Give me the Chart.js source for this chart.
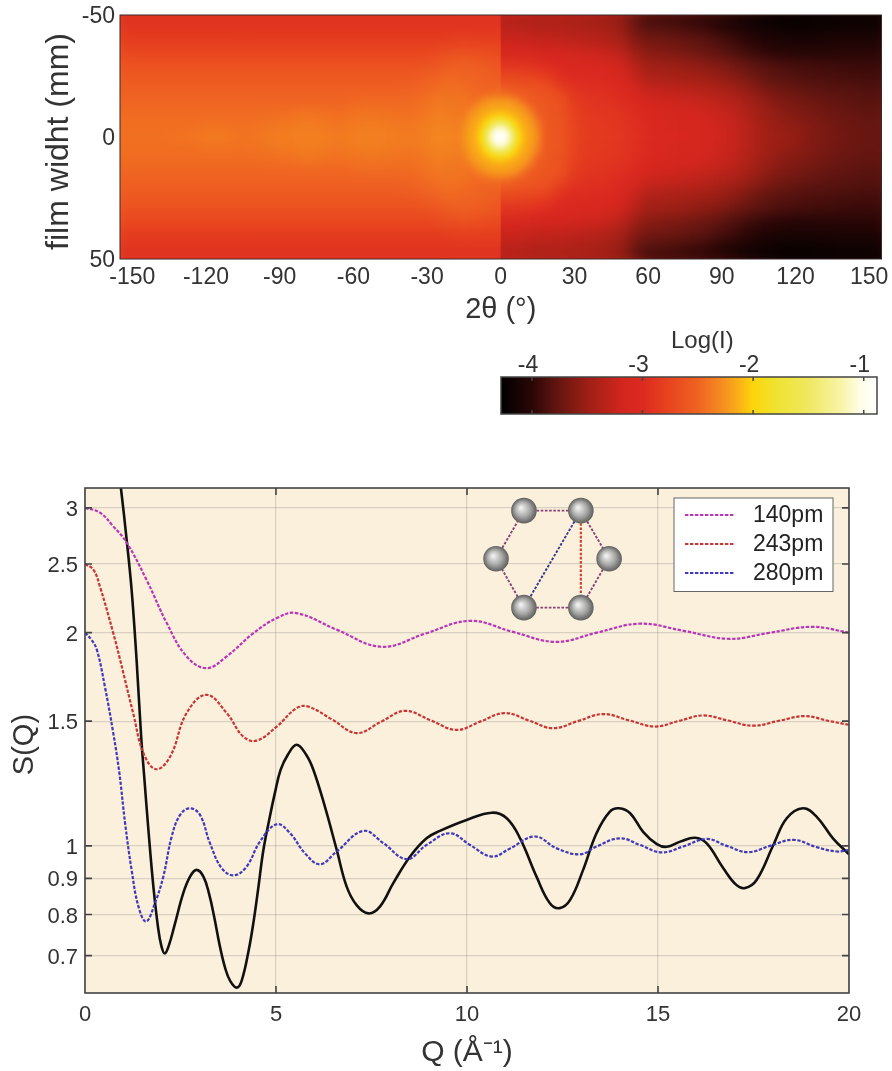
<!DOCTYPE html>
<html><head><meta charset="utf-8">
<script src="https://cdn.jsdelivr.net/npm/chart.js@4"></script>
<style>
html,body{margin:0;padding:0;background:#fff}
#page{position:relative;width:892px;height:1071px;overflow:hidden}
.pane{position:absolute;left:0;width:892px}
canvas{filter:blur(.45px)}
</style></head><body><div id="page">
<div class="pane" style="top:0;height:335px"><canvas id="heat" width="892" height="335"></canvas></div>
<div class="pane" style="top:320px;height:110px"><canvas id="bar" width="892" height="110"></canvas></div>
<div class="pane" style="top:470px;height:601px"><canvas id="lines" width="892" height="601"></canvas></div>
</div>
<script>
// ---------- colour scale (Log I)
const colorLevels=[-4.28,-4,-3.8,-3.5,-3.17,-3,-2.75,-2.5,-2.27,-2.1,-2,-1.8,-1.5,-1.2,-1.03,-0.88];
const colorHexes=['#000000','#2a0606','#5c1410','#9c1f15','#d4261e','#dc2a20','#e8451f','#ef6322','#f58f1f','#fbb814','#fdd50a','#efe22f','#f0e860','#f8f4a8','#fffde8','#ffffff'];
const colorTicks=[-4,-3,-2,-1];
// ---------- heat map: Log(I)*100, rows for |film width| = 0,5..50 mm
const rowsMm=[0,5,10,15,20,25,30,35,40,45,50];
const leftDeg=[-155,-150,-145,-140,-135,-130,-125,-120,-115,-110,-105,-100,-95,-90,-85,-80,-75,-70,-65,-60,-55,-50,-45,-40,-35,-30,-25,-20,-15,-10,-5,0,5];
const leftRows=[
[-243,-243,-243,-243,-242,-241,-240,-237,-236,-238,-241,-240,-237,-236,-236,-235,-235,-236,-237,-236,-235,-235,-236,-237,-237,-235,-231,-233,-231,-213,-150,-90,-150],
[-244,-244,-244,-244,-244,-244,-244,-242,-242,-242,-243,-242,-241,-239,-238,-237,-237,-239,-240,-238,-237,-237,-238,-239,-239,-237,-233,-235,-232,-216,-185,-140,-185],
[-246,-246,-246,-246,-246,-246,-246,-246,-246,-246,-246,-246,-245,-244,-243,-241,-241,-243,-244,-242,-241,-241,-242,-243,-243,-240,-236,-238,-234,-222,-214,-208,-214],
[-249,-249,-249,-249,-249,-249,-249,-249,-249,-249,-249,-249,-249,-249,-249,-249,-249,-249,-249,-248,-247,-247,-247,-247,-246,-243,-239,-241,-238,-236,-227,-224,-227],
[-253,-253,-253,-253,-253,-253,-253,-253,-253,-253,-253,-253,-253,-253,-253,-253,-253,-253,-253,-253,-253,-253,-253,-252,-251,-248,-244,-243,-244,-248,-250,-250,-252],
[-258,-258,-258,-258,-258,-258,-258,-258,-258,-258,-258,-258,-258,-258,-258,-258,-258,-258,-258,-258,-258,-258,-258,-258,-257,-254,-251,-247,-250,-249,-253,-255,-257],
[-265,-265,-265,-265,-265,-265,-265,-265,-265,-265,-265,-265,-265,-265,-265,-265,-265,-265,-265,-265,-265,-265,-265,-265,-265,-263,-260,-256,-254,-255,-258,-262,-262],
[-273,-273,-273,-273,-273,-273,-273,-273,-273,-273,-273,-273,-273,-273,-273,-273,-273,-273,-273,-273,-273,-273,-273,-273,-273,-273,-270,-267,-264,-266,-268,-270,-270],
[-282,-282,-282,-282,-282,-282,-282,-282,-282,-282,-282,-282,-282,-282,-282,-282,-282,-282,-282,-282,-282,-282,-282,-282,-282,-282,-282,-281,-279,-280,-280,-280,-280],
[-289,-289,-289,-289,-289,-289,-289,-289,-289,-289,-289,-289,-289,-289,-289,-289,-289,-289,-289,-289,-289,-289,-289,-289,-289,-289,-289,-289,-289,-289,-289,-289,-289],
[-296,-296,-296,-296,-296,-296,-296,-296,-296,-296,-296,-296,-296,-296,-296,-296,-296,-296,-296,-296,-296,-296,-296,-296,-296,-296,-296,-296,-296,-296,-296,-296,-296]];
const rightDeg=[-5,0,5,10,15,20,25,30,35,40,45,50,55,60,65,70,75,80,85,90,95,100,105,110,115,120,125,130,135,140,145,150,155];
const rightRows=[
[-150,-90,-150,-213,-230,-255,-262,-275,-283,-285,-286,-289,-294,-302,-307,-309,-311,-313,-316,-320,-325,-332,-341,-348,-350,-352,-360,-364,-367,-370,-372,-374,-374],
[-185,-140,-185,-216,-233,-256,-262,-276,-284,-286,-287,-290,-295,-303,-308,-310,-312,-314,-317,-321,-326,-333,-342,-349,-353,-356,-361,-365,-368,-371,-373,-375,-375],
[-214,-208,-214,-222,-238,-260,-264,-278,-286,-288,-289,-292,-298,-307,-311,-313,-315,-317,-320,-324,-329,-336,-345,-352,-358,-362,-365,-368,-371,-374,-376,-377,-377],
[-228,-225,-228,-238,-258,-262,-265,-282,-290,-292,-294,-297,-305,-315,-318,-320,-322,-324,-327,-331,-336,-343,-351,-358,-363,-367,-370,-373,-376,-378,-380,-381,-381],
[-258,-256,-258,-260,-262,-266,-280,-292,-294,-295,-298,-303,-314,-325,-328,-330,-332,-334,-337,-341,-346,-353,-360,-367,-372,-375,-378,-380,-381,-382,-383,-384,-384],
[-272,-272,-272,-274,-276,-282,-296,-300,-301,-303,-307,-313,-325,-338,-340,-342,-344,-346,-349,-353,-358,-365,-372,-378,-381,-383,-385,-386,-387,-388,-389,-390,-390],
[-290,-290,-291,-292,-294,-300,-304,-306,-307,-309,-313,-320,-334,-346,-348,-350,-352,-355,-359,-363,-369,-375,-380,-384,-387,-389,-390,-391,-392,-393,-394,-394,-394],
[-308,-308,-309,-310,-312,-315,-316,-318,-320,-322,-326,-332,-348,-358,-360,-363,-366,-370,-374,-379,-384,-390,-394,-398,-400,-402,-402,-402,-402,-401,-401,-401,-401],
[-322,-322,-322,-323,-325,-327,-328,-330,-332,-334,-338,-345,-360,-368,-370,-372,-375,-378,-382,-387,-392,-398,-403,-407,-409,-410,-410,-410,-409,-408,-408,-408,-408],
[-330,-330,-331,-333,-335,-335,-336,-338,-340,-342,-346,-352,-370,-380,-382,-384,-387,-390,-394,-399,-404,-409,-413,-416,-418,-419,-419,-418,-417,-416,-416,-416,-416],
[-338,-338,-338,-340,-342,-342,-342,-344,-346,-348,-352,-360,-380,-393,-394,-396,-398,-401,-405,-410,-415,-419,-423,-425,-426,-426,-426,-425,-424,-423,-423,-423,-423]];
// glow around the centre, finer cells
const midMm=[0,3,6,9,12,15,18,21,24];
const midLeftDeg=[-24,-21,-18,-15,-12,-9,-6,-3,0,3];
const midLeftRows=[
[-231,-231,-235,-227,-218,-207,-165,-105,-88,-105],
[-232,-232,-236,-229,-219,-209,-177,-120,-103,-120],
[-233,-234,-237,-233,-221,-214,-201,-175,-155,-175],
[-235,-236,-239,-238,-225,-219,-213,-206,-203,-206],
[-237,-238,-241,-240,-236,-224,-220,-217,-216,-217],
[-239,-240,-243,-243,-244,-238,-228,-224,-223,-224],
[-243,-243,-246,-246,-247,-248,-246,-244,-243,-244],
[-246,-246,-249,-248,-250,-250,-250,-250,-250,-250],
[-248,-247,-250,-251,-252,-252,-253,-254,-255,-255]];
const midRightDeg=[-3,0,3,6,9,12,15,18,21,24];
const midRightRows=[
[-105,-88,-105,-165,-207,-218,-227,-254,-261,-264],
[-120,-103,-120,-177,-209,-219,-229,-255,-261,-264],
[-175,-155,-175,-201,-214,-221,-235,-257,-262,-266],
[-206,-203,-206,-213,-219,-225,-248,-260,-263,-268],
[-217,-216,-217,-220,-224,-240,-257,-261,-266,-274],
[-224,-223,-224,-228,-242,-256,-261,-264,-270,-280],
[-246,-243,-246,-252,-258,-261,-264,-270,-278,-286],
[-260,-259,-260,-261,-263,-266,-272,-280,-287,-291],
[-270,-268,-270,-272,-274,-278,-284,-289,-292,-295]];
// central bright spot, finest cells
const coreDeg=[-12,-10,-8,-6,-4,-2,0,2,4,6,8,10,12];
const coreMm=[0,2,4,6,8,10,12];
const coreRows=[
[-219,-213,-200,-165,-118,-95,-88,-95,-118,-165,-200,-213,-219],
[-219,-214,-201,-171,-126,-102,-94,-102,-126,-171,-201,-214,-219],
[-220,-215,-206,-185,-150,-120,-113,-120,-150,-185,-206,-215,-220],
[-221,-217,-211,-200,-177,-157,-147,-157,-177,-200,-211,-217,-221],
[-224,-220,-215,-209,-201,-191,-186,-191,-201,-209,-215,-220,-224],
[-228,-222,-219,-215,-212,-208,-207,-208,-212,-215,-219,-222,-228],
[-233,-226,-222,-220,-217,-216,-215,-216,-217,-220,-222,-226,-233]];
const heatXTicks=[-150,-120,-90,-60,-30,0,30,60,90,120,150];
const heatYTicks=[-50,0,50];
// ---------- S(Q) curves
const q140=[0,.39,.74,1.09,1.61,2.14,2.66,3.18,3.71,4.41,5.02,5.54,6.6,7.77,8.9,10.08,11.2,12.33,13.4,14.53,15.7,16.86,17.9,19.03,20];
const s140=[3,2.954,2.825,2.68,2.375,2.063,1.851,1.782,1.851,1.997,2.097,2.131,2.018,1.91,1.993,2.078,2.005,1.941,2,2.059,2.01,1.96,1.998,2.038,2];
const q243=[0,.22,.39,.74,.92,1.26,1.53,1.86,2.23,2.66,3.18,3.71,4.14,4.49,5.02,5.54,5.84,6.47,7.11,7.75,8.38,9.05,9.73,10.36,10.99,11.62,12.25,12.9,13.56,14.24,14.92,15.55,16.18,16.83,17.49,18.17,18.85,19.42,20];
const s243=[2.5,2.454,2.324,1.997,1.83,1.54,1.352,1.283,1.337,1.54,1.634,1.54,1.427,1.408,1.474,1.565,1.573,1.508,1.443,1.497,1.551,1.504,1.458,1.499,1.54,1.503,1.466,1.5,1.535,1.504,1.474,1.501,1.528,1.503,1.478,1.502,1.525,1.503,1.482];
const q280=[0,.17,.31,.52,.74,.9,1.05,1.22,1.4,1.6,1.83,2.05,2.27,2.49,2.75,3.01,3.27,3.58,3.9,4.23,4.58,5.02,5.37,5.76,6.15,6.59,7.29,7.81,8.42,8.94,9.55,10.08,10.65,11.13,11.78,12.35,12.96,13.39,14,14.53,15.09,15.66,16.27,16.8,17.36,17.93,18.54,19.15,19.68,20];
const s280=[2,1.954,1.892,1.679,1.443,1.267,1.076,.925,.821,.782,.83,.905,1.031,1.106,1.13,1.106,1.009,.93,.909,.935,1.014,1.073,1.042,.976,.942,.982,1.05,1.009,.958,1.003,1.042,1.003,.966,.992,1.031,.992,.973,.998,1.025,1.003,.979,.998,1.023,1,.98,1,1.02,.996,.982,.987];
const qExp=[.78,.94,1.09,1.22,1.35,1.47,1.55,1.66,1.79,1.91,2,2.09,2.2,2.35,2.57,2.75,2.92,3.1,3.25,3.38,3.53,3.67,3.8,3.97,4.1,4.28,4.41,4.54,4.67,4.84,4.97,5.12,5.31,5.54,5.79,5.98,6.28,6.59,6.85,7.11,7.42,7.72,8.07,8.51,8.94,9.29,9.99,10.65,11.04,11.39,11.82,12.17,12.43,12.7,13.04,13.39,13.74,13.98,14.27,14.61,14.97,15.23,15.58,15.97,16.27,16.71,17.05,17.28,17.58,18.02,18.37,18.8,19.15,19.58,20];
const sExp=[3.74,3.2,2.706,2.299,1.831,1.427,1.253,1.053,.876,.769,.722,.705,.725,.775,.857,.905,.925,.905,.855,.795,.722,.672,.645,.631,.645,.71,.78,.875,.987,1.1,1.187,1.28,1.345,1.389,1.345,1.28,1.136,.987,.876,.825,.803,.821,.886,.966,1.025,1.05,1.088,1.114,1.094,1.025,.905,.83,.817,.839,.925,1.042,1.118,1.13,1.112,1.047,1.006,.997,1.014,1.027,1.009,.93,.881,.872,.895,1.003,1.094,1.13,1.1,1.025,.973];
const qTicks=[0,5,10,15,20];
const sTicks=[.7,.8,.9,1,1.5,2,2.5,3];
const seriesNames=['140pm','243pm','280pm'];
const seriesColors=['#b935b9','#c93535','#4038bd'];
// inset molecule, in (Q, S) coordinates
const atomQ=[11.49,12.98,13.72,12.98,11.49,10.76];
const atomS=[2.973,2.973,2.543,2.169,2.169,2.543];

const txt='#333333', fam='"Liberation Sans",Arial,sans-serif';
Chart.defaults.font.family=fam; Chart.defaults.color=txt; Chart.defaults.animation=false;
Chart.defaults.devicePixelRatio=1;

function hexRgb(h){return [1,3,5].map(i=>parseInt(h.substr(i,2),16));}
function colorOf(v){
  if(v<=colorLevels[0])return colorHexes[0];
  for(let i=1;i<colorLevels.length;i++){
    if(v<=colorLevels[i]){
      const t=(v-colorLevels[i-1])/(colorLevels[i]-colorLevels[i-1]);
      const a=hexRgb(colorHexes[i-1]),b=hexRgb(colorHexes[i]);
      return 'rgb('+a.map((c,k)=>Math.round(c+(b[k]-c)*t)).join(',')+')';
    }
  }
  return '#ffffff';
}
function cells(xs,ys,rows){
  const pts=[],cols=[];
  ys.forEach((y,r)=>xs.forEach((x,c)=>{
    const col=colorOf(rows[r][c]/100);
    pts.push({x,y});cols.push(col);
    if(y!==0){pts.push({x,y:-y});cols.push(col);}
  }));
  return {pts,cols};
}
function fixFit(size,key){return s=>{s[key]=size;s.paddingLeft=s.paddingRight=s.paddingTop=s.paddingBottom=0;};}

const framePlugin={id:'frame',afterDraw(chart,args,o){
  const a=chart.chartArea,c=chart.ctx;
  c.save();c.strokeStyle=o.color||'#444';c.lineWidth=o.width||1.5;
  c.strokeRect(a.left,a.top,a.right-a.left,a.bottom-a.top);
  if(o.len){
    c.beginPath();
    (o.x||[]).forEach(v=>{const p=chart.scales.x.getPixelForValue(v);
      c.moveTo(p,a.top);c.lineTo(p,a.top+o.len);c.moveTo(p,a.bottom);c.lineTo(p,a.bottom-o.len);});
    (o.y||[]).forEach(v=>{const p=chart.scales.y.getPixelForValue(v);
      c.moveTo(a.left,p);c.lineTo(a.left+o.len,p);c.moveTo(a.right,p);c.lineTo(a.right-o.len,p);});
    c.stroke();
  }
  c.restore();
}};

// Smooth the drawn cells (a display filter on what the scales placed)
function copyOf(cv){const n=document.createElement('canvas');n.width=cv.width;n.height=cv.height;n.getContext('2d').drawImage(cv,0,0);return n;}
function blurred(chart,sigma){
  const cv=chart.canvas,a=chart.chartArea,w=a.right-a.left,h=a.bottom-a.top,pad=30;
  const src=document.createElement('canvas');src.width=cv.width;src.height=cv.height;
  const s=src.getContext('2d');
  s.drawImage(cv,a.left,a.top,w,h,a.left-pad,a.top-pad,w+2*pad,h+2*pad);
  s.drawImage(cv,a.left,a.top,w,h,a.left,a.top,w,h);
  const out=document.createElement('canvas');out.width=cv.width;out.height=cv.height;
  const o=out.getContext('2d');o.filter='blur('+sigma+'px)';o.drawImage(src,0,0);
  return out;
}
function paste(chart,img,l,t,r,b){
  const c=chart.ctx;c.save();c.beginPath();c.rect(l,t,r-l,b-t);c.clip();c.drawImage(img,0,0);c.restore();
}
function feather(img,cx,cy,r0,r1){
  const n=copyOf(img),g=n.getContext('2d');
  const m=g.createRadialGradient(cx,cy,r0,cx,cy,r1);
  m.addColorStop(0,'rgba(0,0,0,1)');m.addColorStop(1,'rgba(0,0,0,0)');
  g.globalCompositeOperation='destination-in';g.fillStyle=m;g.fillRect(0,0,n.width,n.height);
  return n;
}
let leftImg=null,midImg=null,baseImg=null;
const smoothPlugin={id:'smooth',
  beforeDatasetDraw(chart,args){
    const name=chart.data.datasets[args.index].label;
    if(name==='midLeft'||name==='core')baseImg=copyOf(chart.canvas);
  },
  afterDatasetDraw(chart,args){
  const name=chart.data.datasets[args.index].label,a=chart.chartArea;
  const w=chart.width,h=chart.height;
  const sx=chart.scales.x.getPixelForValue(0),sy=chart.scales.y.getPixelForValue(0);
  if(name==='left'){leftImg=blurred(chart,5.5);}
  if(name==='right'){
    paste(chart,blurred(chart,5.5),sx,a.top,a.right,a.bottom);
    paste(chart,leftImg,a.left,a.top,sx,a.bottom);
  }
  if(name==='midLeft'){midImg=blurred(chart,3.2);}
  if(name==='midRight'){
    const rightImg=blurred(chart,3.2);
    paste(chart,baseImg,a.left,a.top,a.right,a.bottom);
    paste(chart,feather(rightImg,sx,sy,46,62),sx,a.top,a.right,a.bottom);
    paste(chart,feather(midImg,sx,sy,46,62),a.left,a.top,sx,a.bottom);
  }
  if(name==='core'){
    const coreImg=blurred(chart,2.2);
    paste(chart,baseImg,a.left,a.top,a.right,a.bottom);
    paste(chart,feather(coreImg,sx,sy,22,31),a.left,a.top,a.right,a.bottom);
  }
}};

const L=cells(leftDeg,rowsMm,leftRows),R=cells(rightDeg,rowsMm,rightRows),C=cells(coreDeg,coreMm,coreRows);
const ML=cells(midLeftDeg,midMm,midLeftRows),MR=cells(midRightDeg,midMm,midRightRows);
const cellDs=(label,d,r,clip)=>({label,data:d.pts,pointStyle:'rect',pointRadius:r,pointBorderWidth:0,pointBackgroundColor:d.cols,showLine:false,clip});
new Chart(document.getElementById('heat'),{type:'scatter',
  data:{datasets:[
    cellDs('core',C,4.4,0),
    cellDs('midRight',MR,6.4,{left:-372,right:0,top:0,bottom:0}),
    cellDs('midLeft',ML,6.4,{left:0,right:-372,top:0,bottom:0}),
    cellDs('right',R,10.5,{left:-362,right:0,top:0,bottom:0}),
    cellDs('left',L,10.5,{left:0,right:-362,top:0,bottom:0})]},
  options:{responsive:false,events:[],layout:{padding:{top:15,right:7,left:0,bottom:0}},
    plugins:{legend:{display:false},tooltip:{enabled:false},frame:{color:'#3a2a2a',width:1}},
    scales:{
      x:{type:'linear',min:-155,max:155,grid:{display:false,drawTicks:false},border:{display:false},
        afterBuildTicks:s=>{s.ticks=heatXTicks.map(value=>({value}));},afterFit:fixFit(76,'height'),
        ticks:{font:{size:23},padding:5,maxRotation:0,autoSkip:false,color:txt},
        title:{display:true,text:'2θ (°)',font:{size:29},color:txt,padding:{top:0,bottom:8}}},
      y:{type:'linear',reverse:true,min:-50,max:50,grid:{display:false,drawTicks:false},border:{display:false},
        afterBuildTicks:s=>{s.ticks=heatYTicks.map(value=>({value}));},afterFit:fixFit(120,'width'),
        ticks:{font:{size:23},padding:5,labelOffset:2,autoSkip:false,color:txt},
        title:{display:true,text:'film widht (mm) ',font:{size:32},color:txt,padding:{top:40,bottom:0}}}
    }},plugins:[smoothPlugin,framePlugin]});

// colour bar
new Chart(document.getElementById('bar'),{type:'bar',
  data:{labels:['Log(I)'],datasets:[{data:[[colorLevels[0],colorLevels[colorLevels.length-1]]],
    categoryPercentage:1,barPercentage:1,borderSkipped:false,
    backgroundColor(ctx){
      const ch=ctx.chart,sc=ch.scales.x;if(!ch.chartArea||!sc)return '#000';
      const x0=sc.getPixelForValue(colorLevels[0]),x1=sc.getPixelForValue(colorLevels[colorLevels.length-1]);
      const g=ch.ctx.createLinearGradient(x0,0,x1,0);
      colorLevels.forEach((l,i)=>g.addColorStop((l-colorLevels[0])/(colorLevels[colorLevels.length-1]-colorLevels[0]),colorHexes[i]));
      return g;
    }}]},
  options:{indexAxis:'y',responsive:false,events:[],layout:{padding:{top:0,right:15,left:501,bottom:16}},
    plugins:{legend:{display:false},tooltip:{enabled:false},frame:{color:'#444',width:1.5,len:4,x:colorTicks}},
    scales:{
      x:{type:'linear',position:'top',min:colorLevels[0],max:colorLevels[colorLevels.length-1],grid:{display:false,drawTicks:false},border:{display:false},
        afterBuildTicks:s=>{s.ticks=colorTicks.map(value=>({value}));},afterFit:fixFit(57,'height'),
        ticks:{font:{size:23},padding:-2,labelOffset:-4,autoSkip:false,maxRotation:0,color:txt},
        title:{display:true,text:'    Log(I)',font:{size:24},color:txt,padding:{top:7,bottom:0}}},
      y:{display:false}
    }},plugins:[framePlugin]});

// S(Q)
const xy=(q,s)=>q.map((x,i)=>({x,y:s[i]}));
const dashDs=(i,q,s)=>({label:seriesNames[i],data:xy(q,s),showLine:true,pointRadius:0,borderColor:seriesColors[i],borderWidth:2.2,borderDash:[3.4,1.6],tension:.4});
const decorPlugin={id:'decor',
  beforeDraw(chart){
    const a=chart.chartArea,c=chart.ctx;c.save();c.fillStyle='#fbf0dc';c.fillRect(a.left,a.top,a.right-a.left,a.bottom-a.top);c.restore();
  },
  afterDraw(chart){
    const c=chart.ctx,a=chart.chartArea,X=chart.scales.x,Y=chart.scales.y;
    const px=atomQ.map(q=>X.getPixelForValue(q)),py=atomS.map(s=>Y.getPixelForValue(s));
    c.save();
    const bond=(i,j,col,w)=>{c.beginPath();c.strokeStyle=col;c.lineWidth=w;c.setLineDash([2.6,1.6]);c.moveTo(px[i],py[i]);c.lineTo(px[j],py[j]);c.stroke();};
    [[0,1],[1,2],[2,3],[3,4],[4,5],[5,0]].forEach(b=>bond(b[0],b[1],'#8a3f78',1.9));
    bond(1,3,'#cf4030',2.2);bond(1,4,'#35358f',1.9);
    c.setLineDash([]);
    px.forEach((x,i)=>{
      const g=c.createRadialGradient(x-3,py[i]-3,1,x,py[i],12.8);
      g.addColorStop(0,'#eeeeee');g.addColorStop(.55,'#a8a8a6');g.addColorStop(1,'#5e5e5c');
      c.fillStyle=g;c.beginPath();c.arc(x,py[i],12.8,0,Math.PI*2);c.fill();
    });
    // legend box, placed from the top-right corner of the plot area
    const bx=a.right-175,by=a.top+10,bw=159,bh=93.5;
    c.fillStyle='#fff';c.strokeStyle='#666';c.lineWidth=1;c.fillRect(bx,by,bw,bh);c.strokeRect(bx,by,bw,bh);
    c.font='23px '+fam;c.textBaseline='middle';c.textAlign='left';
    seriesNames.forEach((n,i)=>{
      const y=by+17+i*29;
      c.beginPath();c.strokeStyle=seriesColors[i];c.lineWidth=2.2;c.setLineDash([3.4,1.6]);c.moveTo(bx+11,y);c.lineTo(bx+60,y);c.stroke();c.setLineDash([]);
      c.fillStyle='#222';c.fillText(n,bx+79,y+1);
    });
    c.restore();
  }};
new Chart(document.getElementById('lines'),{type:'scatter',
  data:{datasets:[
    dashDs(0,q140,s140),dashDs(1,q243,s243),dashDs(2,q280,s280),
    {label:'exp',data:xy(qExp,sExp),showLine:true,pointRadius:0,borderColor:'#111',borderWidth:2.6,tension:.4}]},
  options:{responsive:false,events:[],layout:{padding:{top:18,right:43,left:0,bottom:0}},
    plugins:{legend:{display:false},tooltip:{enabled:false},frame:{color:'#444',width:1.6,len:7,x:qTicks.slice(1,-1),y:sTicks}},
    scales:{
      x:{type:'linear',min:0,max:20,grid:{color:'rgba(110,110,110,.25)',lineWidth:1.2,drawTicks:false},border:{display:false},
        afterBuildTicks:s=>{s.ticks=qTicks.map(value=>({value}));},afterFit:fixFit(78,'height'),
        ticks:{font:{size:22},padding:9,maxRotation:0,autoSkip:false,color:txt},
        title:{display:true,text:'Q (Å⁻¹)',font:{size:30},color:txt,padding:{top:0,bottom:0}}},
      y:{type:'logarithmic',bounds:'data',min:.62,max:3.2,grid:{color:'rgba(110,110,110,.25)',lineWidth:1.2,drawTicks:false},border:{display:false},
        afterBuildTicks:s=>{s.ticks=sTicks.map(value=>({value}));},afterFit:fixFit(85,'width'),
        ticks:{font:{size:22},padding:7,labelOffset:2,autoSkip:false,color:txt,callback:v=>String(v)},
        title:{display:true,text:'S(Q) ',font:{size:29},color:txt,padding:{top:8,bottom:0}}}
    }},plugins:[decorPlugin,framePlugin]});
</script></body></html>
